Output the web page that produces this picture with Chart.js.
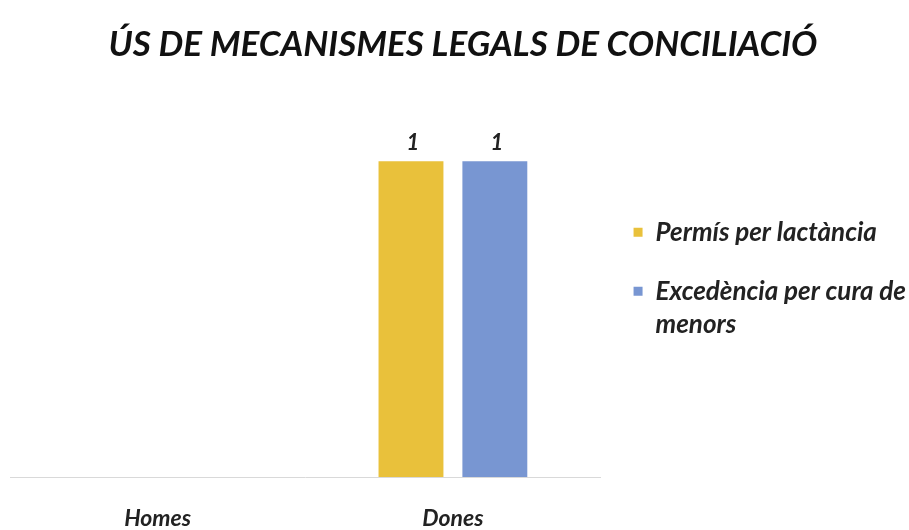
<!DOCTYPE html>
<html>
<head>
<meta charset="utf-8">
<script src="https://cdn.jsdelivr.net/npm/chart.js@4"></script>
<style>
  html, body { margin: 0; padding: 0; background: #fff; }
  #wrap { width: 909px; height: 530px; }
</style>
</head>
<body>
<div id="wrap"><canvas id="chart" width="909" height="530"></canvas></div>
<script>
const categories = ['Homes', 'Dones']
const lactanciaValues = [null, 1]
const excedenciaValues = [null, 1]
const seriesNames = ['Permís per lactància', ['Excedència per cura de', 'menors']]
const titleText = 'ÚS DE MECANISMES LEGALS DE CONCILIACIÓ'

const font = 'Lato'
const yellow = '#E9C13B'
const blue = '#7896D2'

// value labels above each bar, positioned from the bar elements
const barValues = {
  id: 'barValues',
  afterDatasetsDraw(chart) {
    const ctx = chart.ctx
    ctx.save()
    ctx.font = 'italic bold 22px ' + font
    ctx.fillStyle = '#222'
    ctx.textAlign = 'center'
    ctx.textBaseline = 'alphabetic'
    chart.data.datasets.forEach((ds, i) => {
      chart.getDatasetMeta(i).data.forEach((bar, j) => {
        const v = ds.data[j]
        if (v === null || v === undefined) return
        ctx.fillText(String(v), bar.x + 2, bar.y - 11)
      })
    })
    ctx.restore()
  }
}

new Chart(document.getElementById('chart').getContext('2d'), {
  type: 'bar',
  data: {
    labels: categories,
    datasets: [
      { label: 'lactancia', data: lactanciaValues, backgroundColor: yellow },
      { label: 'excedencia', data: excedenciaValues, backgroundColor: blue }
    ]
  },
  options: {
    responsive: false,
    animation: false,
    categoryPercentage: 0.568,
    barPercentage: 0.774,
    // the x axis reserves its tick padding twice, so pull the bottom back down
    layout: { padding: { left: 10, right: -7, top: 0, bottom: -30 } },
    scales: {
      x: {
        grid: { display: false, drawTicks: false },
        border: { display: true, color: '#d9d9d9', width: 1 },
        ticks: { color: '#222', padding: 30, font: { family: font, size: 23, style: 'italic', weight: 'bold', lineHeight: 1 } }
      },
      y: { display: false, min: 0, max: 1.2 }
    },
    plugins: {
      title: {
        display: true,
        text: titleText,
        color: '#111',
        font: { family: font, size: 35, style: 'italic', weight: 'bold', lineHeight: 1.2 },
        padding: { top: 24, bottom: 32 }
      },
      legend: {
        position: 'right',
        // empty title only nudges the item column down a little
        title: { display: true, text: '', font: { size: 1 }, padding: { top: 4, bottom: 0 } },
        labels: {
          color: '#222',
          boxWidth: 9,
          boxHeight: 9,
          padding: 33,
          font: { family: font, size: 26, style: 'italic', weight: 'bold', lineHeight: 1.3 },
          generateLabels: chart => chart.data.datasets.map((ds, i) => ({
            text: seriesNames[i],
            fillStyle: ds.backgroundColor,
            strokeStyle: ds.backgroundColor,
            lineWidth: 0,
            datasetIndex: i,
            fontColor: '#222'
          }))
        }
      },
      tooltip: { enabled: false }
    }
  },
  plugins: [barValues]
})
</script>
</body>
</html>
